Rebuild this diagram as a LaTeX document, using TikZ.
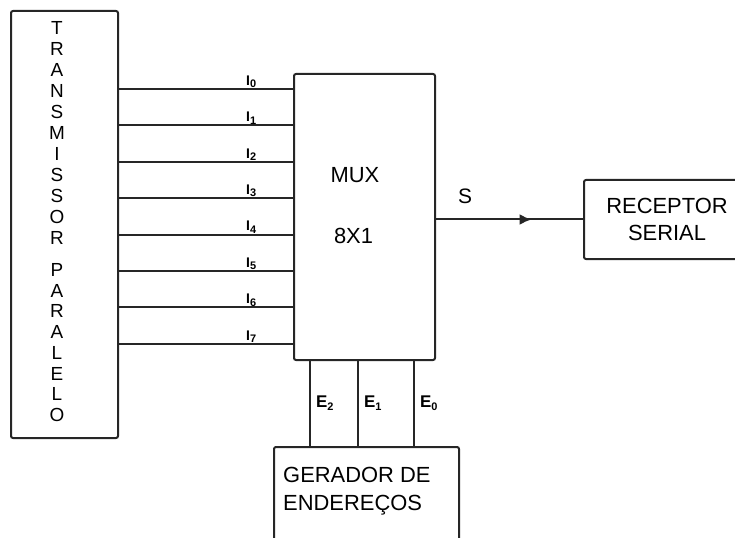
\documentclass[tikz,border=0pt]{standalone}
\usepackage{fontspec}
\setmainfont{Liberation Sans}
\usetikzlibrary{arrows.meta,decorations.markings}
\tikzset{blk/.style={draw=black!85,line width=2bp,rounded corners=2bp,inner sep=0pt},
 wire/.style={draw=black!85,line width=2bp},
 ilbl/.style={font=\bfseries\fontsize{14}{14}\selectfont,inner sep=1bp},
 elbl/.style={font=\bfseries\fontsize{17}{17}\selectfont,inner sep=5bp},
 btxt/.style={font=\fontsize{22}{28}\selectfont,inner sep=0pt},
 vtxt/.style={font=\fontsize{19}{19}\selectfont,inner sep=0pt}}
\begin{document}
\begin{tikzpicture}[x=1bp,y=-1bp]
 \useasboundingbox (0,0) rectangle (735,538); \clip (0,0) rectangle (735,538);
 \node[blk,minimum width=107bp,minimum height=427bp,anchor=north west] (tx) at (10,10) {};
 \node[blk,minimum width=141bp,minimum height=286bp,anchor=north west] (mux) at (293,73) {};
 \node[blk,minimum width=166bp,minimum height=79bp,anchor=west,align=center,btxt] (rec) at (583,219.5) {RECEPTOR\\SERIAL};
 \node[blk,minimum width=185bp,minimum height=110bp,anchor=north west] (ger) at (273,446) {};
 \foreach \c [count=\n] in {T,R,A,N,S,M,I,S,S,O,R} \node[vtxt] (ta\n) at (57,{7+21*\n}) {\c};
 \foreach \c [count=\n] in {P,A,R,A,L,E,L,O} \node[vtxt] (tb\n) at (57,{249.3+20.7*\n}) {\c};
 \node[btxt] (muxa) at (355,175) {MUX}; \node[btxt] (muxb) at (353.5,236) {8X1};
 \node[btxt,align=left,anchor=west] (gtxt) at (283,491) {GERADOR DE\\ENDEREÇOS};
 \foreach \k in {0,...,7} {
  \coordinate (i\k) at (293,{89+36.4*\k});
  \draw[wire] (tx.east |- i\k) -- (i\k);
  \node[ilbl,anchor=south west] (li\k) at (245,{89+36.4*\k}) {I\raisebox{-2.5bp}{\fontsize{11}{11}\selectfont\k}};
 }
 \foreach \x/\k in {310/2,358/1,414/0} {
  \coordinate (e\k) at (\x,400);
  \draw[wire] (e\k |- mux.south) -- (e\k |- ger.north) node[elbl,midway,right] (le\k) {E\raisebox{-3bp}{\fontsize{11}{11}\selectfont\k}};
 }
 \draw[wire,postaction={decorate},decoration={markings,mark=at position 0.65 with {\arrow{Latex[length=12bp,width=11bp]}}}] (mux.east |- rec.west) -- (rec.west);
 \node[btxt,font=\fontsize{21}{21}\selectfont] (s) at (465,196) {S};
\end{tikzpicture}
\end{document}
